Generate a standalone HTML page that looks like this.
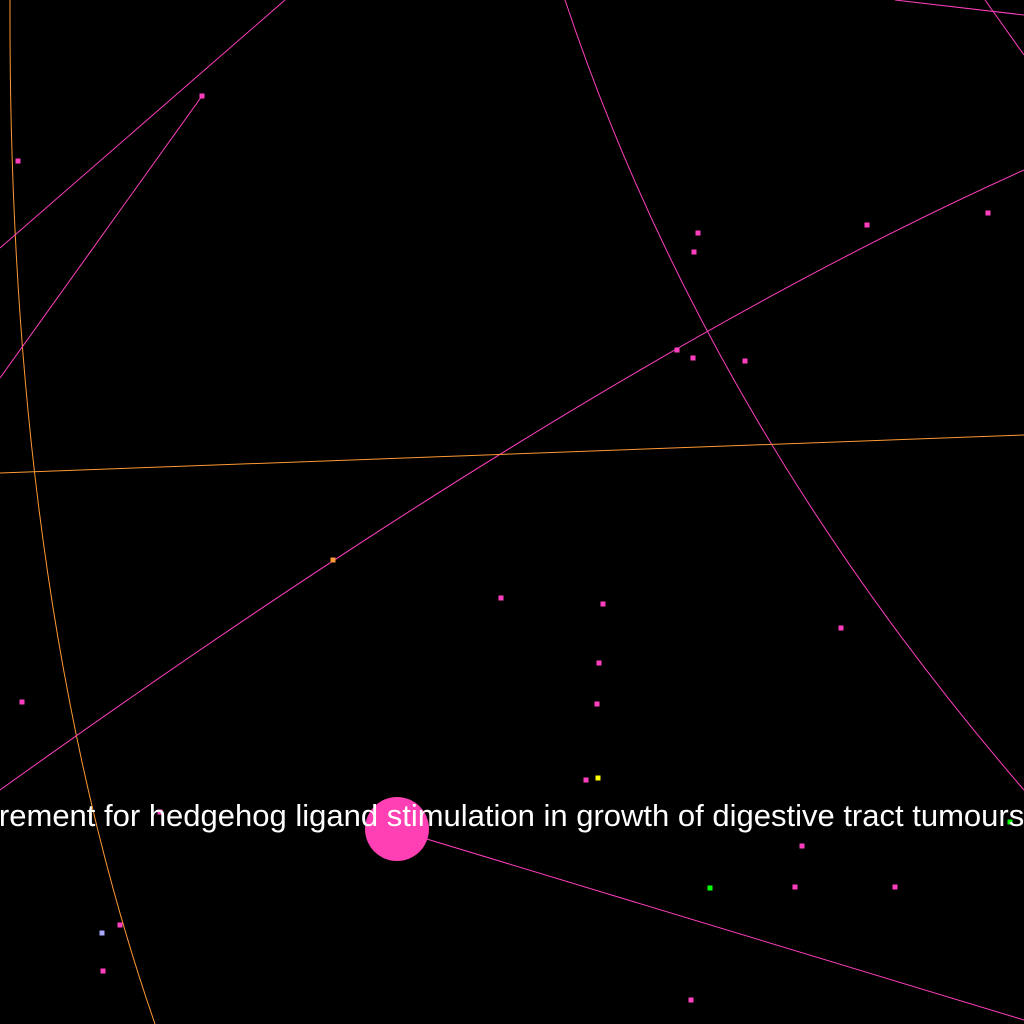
<!DOCTYPE html>
<html><head><meta charset="utf-8"><style>html,body{margin:0;padding:0;background:#000;width:1024px;height:1024px;overflow:hidden}</style></head>
<body>
<svg id="g" width="1024" height="1024" viewBox="0 0 1024 1024" xmlns="http://www.w3.org/2000/svg" style="background:#000">
<rect width="1024" height="1024" fill="#000"/>
</svg>
<script>
const edgePaths = [
  "M10,0 Q8,600 155,1024",
  "M285,0 L0,248",
  "M202,96 L0,378",
  "M565,0 Q705,420 1024,790",
  "M1024,170 Q600,360 0,790",
  "M0,473 L1024,435",
  "M397,830 L1024,1020",
  "M895,0 L1024,15",
  "M985,0 L1024,55"
];
const edgeColors = ["#ff9933","#ff3fbf","#ff3fbf","#ff3fbf","#ff3fbf","#ff9933","#ff3fbf","#ff3fbf","#ff3fbf"];
const nodeX = [202,18,698,694,867,988,677,693,745,333,501,603,841,599,597,22,586,598,1010,802,710,795,895,160,120,102,103,691];
const nodeY = [96,161,233,252,225,213,350,358,361,560,598,604,628,663,704,702,780,778,822,846,888,887,887,812,925,933,971,1000];
const nodeColors = ["#ff3fbf","#ff3fbf","#ff3fbf","#ff3fbf","#ff3fbf","#ff3fbf","#ff3fbf","#ff3fbf","#ff3fbf","#ff9933","#ff3fbf","#ff3fbf","#ff3fbf","#ff3fbf","#ff3fbf","#ff3fbf","#ff3fbf","#ffff00","#00ff00","#ff3fbf","#00ff00","#ff3fbf","#ff3fbf","#ff3fbf","#ff3fbf","#aaaaff","#ff3fbf","#ff3fbf"];
const svg = document.getElementById('g');
const NS = "http://www.w3.org/2000/svg";
edgePaths.forEach((d,i)=>{
  const p = document.createElementNS(NS,'path');
  p.setAttribute('d',d);
  p.setAttribute('stroke',edgeColors[i]);
  p.setAttribute('stroke-width','1');
  p.setAttribute('fill','none');
  
  
  svg.appendChild(p);
});
nodeX.forEach((x,i)=>{
  const r = document.createElementNS(NS,'rect');
  r.setAttribute('x',x-2.5);
  r.setAttribute('y',nodeY[i]-2.5);
  r.setAttribute('width',5);
  r.setAttribute('height',5);
  r.setAttribute('fill',nodeColors[i]);
  
  
  svg.appendChild(r);
});
const c = document.createElementNS(NS,'circle');
c.setAttribute('cx',397);c.setAttribute('cy',829);c.setAttribute('r',32);
c.setAttribute('fill','#ff40b4');


svg.appendChild(c);
const t = document.createElementNS(NS,'text');
t.setAttribute('x',-70);t.setAttribute('y',826);
t.setAttribute('fill','#ffffff');
t.setAttribute('font-size','31');
t.setAttribute('font-family','"Liberation Sans", sans-serif');


t.textContent = "requirement for hedgehog ligand stimulation in growth of digestive tract tumours";
svg.appendChild(t);
</script>
</body></html>
